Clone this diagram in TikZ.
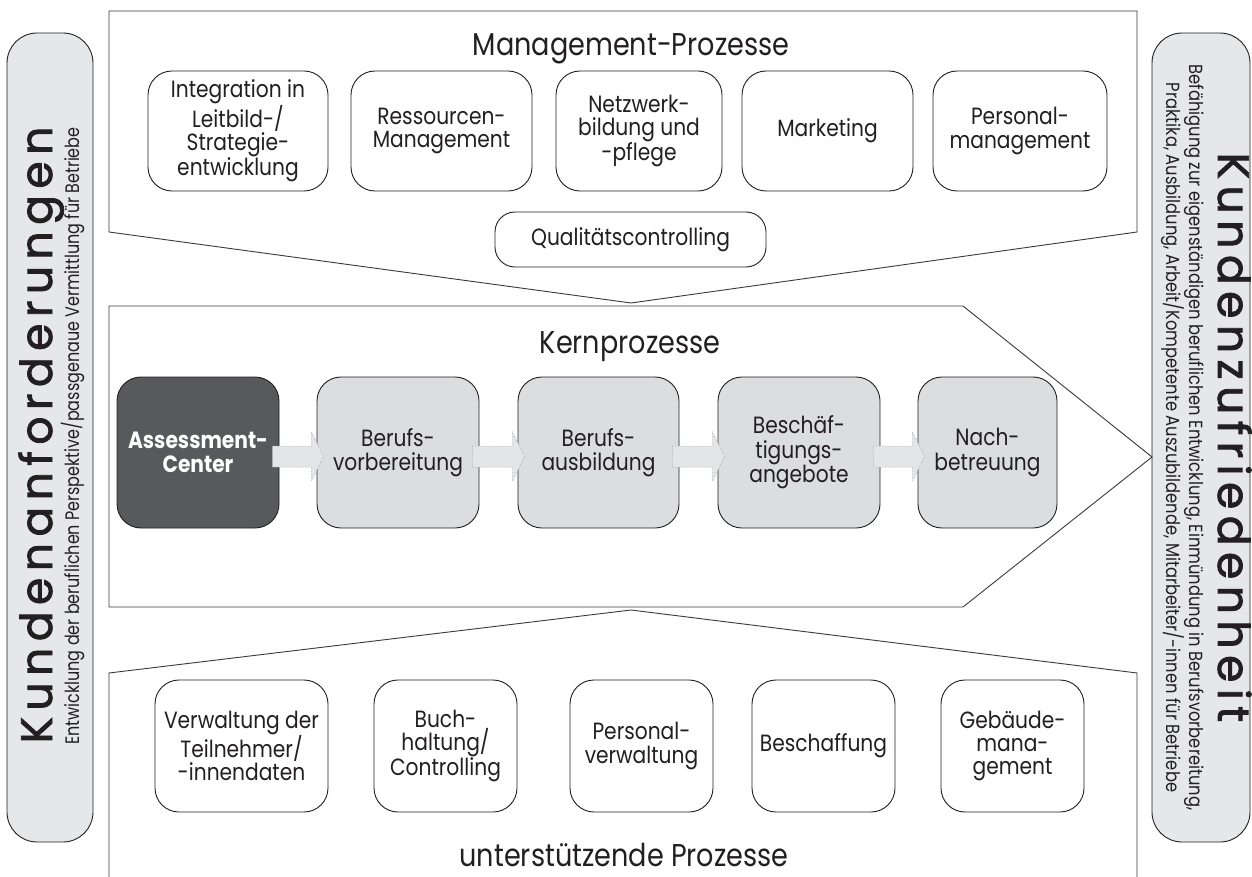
\documentclass[tikz,border=0pt]{standalone}
\usepackage{fontspec}
\setmainfont{Poppins}[FakeStretch=0.86]
\newfontfamily\sidefont{Poppins}[FakeBold=1.8]
\newfontfamily\condfont{Poppins}[FakeStretch=0.82]
\newfontfamily\rcondfont{Poppins}[FakeStretch=0.86]
\usetikzlibrary{calc}
\definecolor{ink}{HTML}{231F20}
\definecolor{sidegray}{HTML}{E6E7E8}
\definecolor{coregray}{HTML}{DCDDDE}
\definecolor{darkcore}{HTML}{58595B}
\definecolor{linegray}{HTML}{3A3A3A}
\definecolor{arrowfill}{HTML}{E4E5E6}
\definecolor{arrowline}{HTML}{9A9A9A}
\newcommand\boxfont{\fontsize{23.5}{23.3}\selectfont}
\newcommand\corefont{\fontsize{23.5}{24.5}\selectfont}
\newcommand\titlefont{\fontsize{31.5}{34}\selectfont}
\newcommand\bigsidefont{\sidefont\fontsize{44}{44}\selectfont}
\newcommand\smallsidefont{\condfont\fontsize{19.5}{22}\selectfont}
\newcommand\rsmallsidefont{\rcondfont\fontsize{19}{22}\selectfont}
\newcommand\spreadtxt[2]{\def\spreadgap{#1}\spreadaux#2\relax}
\def\spreadaux#1{\ifx\relax#1\unskip\else#1\hspace{\spreadgap}\expandafter\spreadaux\fi}
\newcommand\blkarrow[2]{%
  \draw[blockarrow] ($(#1.east)+(-7,-6.5)$) -- ($(#2.west)+(-5,-6.5)$)
    -- ($(#2.west)+(-5,-20.5)$) -- ($(#2.west)+(7,4)$) -- ($(#2.west)+(-5,28.5)$)
    -- ($(#2.west)+(-5,14.5)$) -- ($(#1.east)+(-7,14.5)$) -- cycle;}
\begin{document}
\begin{tikzpicture}[x=1pt,y=-1pt,
  every node/.style={text=ink},
  procbox/.style={draw=ink, line width=0.9pt, rounded corners=24pt, fill=white,
    align=center, inner sep=2pt, font=\boxfont},
  corebox/.style={procbox, fill=coregray, font=\corefont},
  sidebox/.style={draw=ink, line width=0.9pt, rounded corners=30pt, fill=sidegray},
  region/.style={draw=linegray, line width=0.9pt},
  title/.style={font=\titlefont, anchor=base},
  blockarrow/.style={fill=arrowfill, draw=arrowline, line width=0.5pt, densely dotted}]
\fill[white] (0,0) rectangle (1252,877);
\useasboundingbox (0,0) rectangle (1252,877);

% side boxes
\node[sidebox, minimum width=86pt, minimum height=809pt] (leftbox) at (50,437.5) {};
\node[sidebox, minimum width=98pt, minimum height=809pt] (rightbox) at (1201,437.5) {};
\node[rotate=90, anchor=base, font=\bigsidefont] (kanf) at (52,435) {\spreadtxt{6.5pt}{Kundenanforderungen}};
\node[rotate=90, anchor=base, font=\smallsidefont] (kanfsub) at (79,436) {Entwicklung der beruflichen Perspektive/passgenaue Vermittlung für Betriebe};
\node[rotate=-90, anchor=base, font=\bigsidefont] (kzuf) at (1218,437.5) {\spreadtxt{6.5pt}{Kundenzufriedenheit}};
\node[rotate=-90, anchor=base, font=\rsmallsidefont] (kzufa) at (1189,437.5) {Befähigung zur eigenständigen beruflichen Entwicklung, Einmündung in Berufsvorbereitung,};
\node[rotate=-90, anchor=base, font=\rsmallsidefont] (kzufb) at (1166,437.5) {Praktika, Ausbildung, Arbeit/Kompetente Auszubildende, Mitarbeiter/-innen für Betriebe};

% regions
\draw[region] (109,11) -- (1137,11) -- (1137,232) -- (631,303) -- (109,232) -- cycle;
\draw[region] (109,306) -- (963,306) -- (1152,457) -- (963,607) -- (109,607) -- cycle;
\draw[region] (109,880) -- (109,673) -- (631,610) -- (1137,673) -- (1137,880);

% titles
\node[title] (mgmt) at (631,56) {Management-Prozesse};
\node[title] (kern) at (630,353) {Kernprozesse};
\node[title] (supp) at (624,866) {unterstützende Prozesse};

% management processes
\node[procbox, minimum width=180pt, minimum height=120pt] (m1) at (238,131) {Integration in\\Leitbild-/\\Strategie-\\entwicklung};
\node[procbox, minimum width=181pt, minimum height=120pt] (m2) at (441.5,131) {Ressourcen-\\Management};
\node[procbox, minimum width=166pt, minimum height=120pt] (m3) at (639,131) {Netzwerk-\\bildung und\\-pflege};
\node[procbox, minimum width=171pt, minimum height=120pt] (m4) at (827.5,131) {Marketing};
\node[procbox, minimum width=174pt, minimum height=120pt] (m5) at (1020,131) {Personal-\\management};
\node[procbox, rounded corners=20pt, minimum width=271pt, minimum height=55pt] (q) at (630.5,239.5) {Qualitätscontrolling};

% core processes
\node[corebox, fill=darkcore, text=white, font=\corefont\bfseries, minimum width=162pt, minimum height=151pt] (c1) at (198,452.5) {Assessment-\\Center};
\node[corebox, minimum width=162pt, minimum height=151pt] (c2) at (398,452.5) {Berufs-\\vorbereitung};
\node[corebox, minimum width=161pt, minimum height=151pt] (c3) at (598.5,452.5) {Berufs-\\ausbildung};
\node[corebox, minimum width=162pt, minimum height=151pt] (c4) at (799,452.5) {Beschäf-\\tigungs-\\angebote};
\node[corebox, minimum width=139pt, minimum height=151pt] (c5) at (987.5,452.5) {Nach-\\betreuung};
\blkarrow{c1}{c2}
\blkarrow{c2}{c3}
\blkarrow{c3}{c4}
\blkarrow{c4}{c5}

% support processes
\node[procbox, minimum width=173pt, minimum height=132pt] (s1) at (241.5,746) {Verwaltung der\\Teilnehmer/\\-innendaten};
\node[procbox, minimum width=143pt, minimum height=132pt] (s2) at (445.5,746) {Buch-\\haltung/\\Controlling};
\node[procbox, minimum width=143pt, minimum height=132pt] (s3) at (641.5,746) {Personal-\\verwaltung};
\node[procbox, minimum width=143pt, minimum height=132pt] (s4) at (823.5,746) {Beschaffung};
\node[procbox, minimum width=143pt, minimum height=132pt] (s5) at (1012.5,746) {Gebäude-\\mana-\\gement};
\end{tikzpicture}
\end{document}
